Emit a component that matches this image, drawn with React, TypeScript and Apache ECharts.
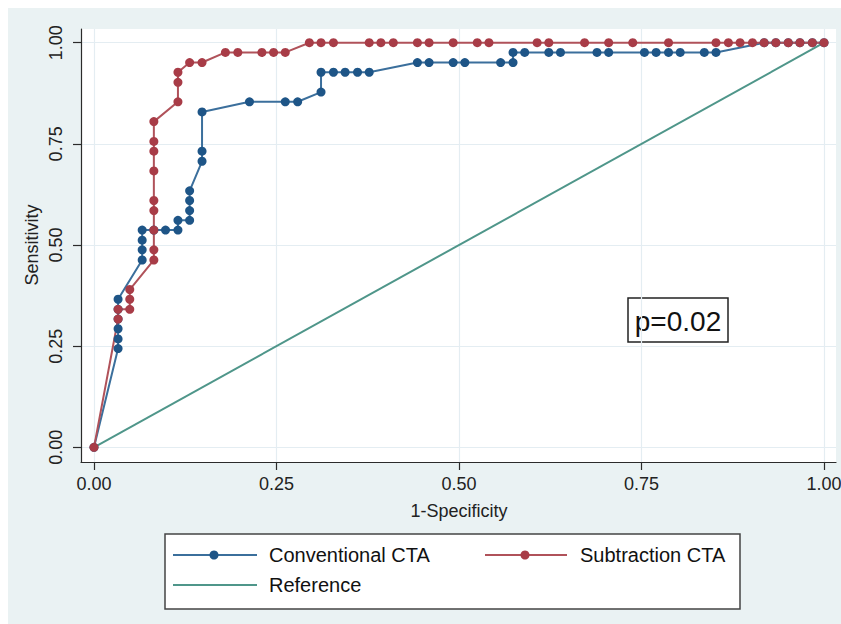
import React, { useEffect, useRef } from "react";
import * as echarts from "echarts";

// 1-Specificity / Sensitivity pairs
const convX = [0, 0.033, 0.033, 0.033, 0.033, 0.033, 0.033, 0.066, 0.066, 0.066, 0.066, 0.082, 0.098, 0.115, 0.115, 0.131, 0.131, 0.131, 0.131, 0.148, 0.148, 0.148, 0.213, 0.262, 0.279, 0.311, 0.311, 0.328, 0.344, 0.361, 0.377, 0.443, 0.459, 0.492, 0.508, 0.557, 0.574, 0.574, 0.59, 0.623, 0.639, 0.689, 0.705, 0.754, 0.77, 0.787, 0.803, 0.836, 0.852, 0.918, 0.934, 0.951, 0.967, 0.984, 1.0];
const convY = [0, 0.244, 0.268, 0.293, 0.317, 0.341, 0.366, 0.463, 0.488, 0.512, 0.537, 0.537, 0.537, 0.537, 0.561, 0.561, 0.585, 0.61, 0.634, 0.707, 0.732, 0.829, 0.854, 0.854, 0.854, 0.878, 0.927, 0.927, 0.927, 0.927, 0.927, 0.951, 0.951, 0.951, 0.951, 0.951, 0.951, 0.976, 0.976, 0.976, 0.976, 0.976, 0.976, 0.976, 0.976, 0.976, 0.976, 0.976, 0.976, 1, 1, 1, 1, 1, 1];

const subX = [0, 0.033, 0.033, 0.049, 0.049, 0.049, 0.082, 0.082, 0.082, 0.082, 0.082, 0.082, 0.082, 0.082, 0.082, 0.115, 0.115, 0.115, 0.131, 0.148, 0.18, 0.197, 0.23, 0.246, 0.262, 0.295, 0.311, 0.328, 0.377, 0.393, 0.41, 0.443, 0.459, 0.492, 0.525, 0.541, 0.607, 0.623, 0.672, 0.705, 0.738, 0.787, 0.852, 0.869, 0.885, 0.902, 0.918, 0.934, 0.951, 0.967, 0.984, 1.0];
const subY = [0, 0.317, 0.341, 0.341, 0.366, 0.39, 0.463, 0.488, 0.537, 0.585, 0.61, 0.683, 0.732, 0.756, 0.805, 0.854, 0.902, 0.927, 0.951, 0.951, 0.976, 0.976, 0.976, 0.976, 0.976, 1, 1, 1, 1, 1, 1, 1, 1, 1, 1, 1, 1, 1, 1, 1, 1, 1, 1, 1, 1, 1, 1, 1, 1, 1, 1, 1];

const refX = [0, 1];
const refY = [0, 1];

const tickValues = [0, 0.25, 0.5, 0.75, 1];
const seriesNames = ["Conventional CTA", "Subtraction CTA", "Reference"];
const annotation = "p=0.02";
const xTitle = "1-Specificity";
const yTitle = "Sensitivity";

const BLUE = "#1e5587";
const BLUE_LINE = "#3b6f9c";
const RED = "#a83c47";
const RED_LINE = "#b0525a";
const GREEN = "#4f968a";
const FONT = "Liberation Sans, Arial, Helvetica, sans-serif";

const W = 841;
const H = 624;

const pairs = (xs: number[], ys: number[]) => xs.map((x, i) => [x, ys[i]]);

export default function App() {
  const ref = useRef<HTMLDivElement>(null);
  useEffect(() => {
    const chart = echarts.init(ref.current!, null, { renderer: "svg", width: W, height: H });
    const axisCommon = {
      type: "value" as const,
      axisLine: { show: true, onZero: false, lineStyle: { color: "#2b2b2b", width: 1.2 } },
      axisTick: { show: true, inside: false, length: 8, customValues: tickValues, lineStyle: { color: "#2b2b2b", width: 1.2 } },
      splitLine: { show: true, lineStyle: { color: "#e4edf2", width: 1.2 } },
    };
    chart.setOption({
      animation: false,
      backgroundColor: "#eaf2f3",
      grid: { left: 73, top: 21, right: 13, bottom: 170, show: true, backgroundColor: "#ffffff", borderWidth: 0 },
      xAxis: {
        ...axisCommon,
        min: -0.0178,
        max: 1.0164,
        axisLabel: {
          customValues: tickValues,
          formatter: (v: number) => v.toFixed(2),
          fontFamily: FONT,
          fontSize: 18,
          color: "#222",
          margin: 13,
        },
      },
      yAxis: {
        ...axisCommon,
        min: -0.0363,
        max: 1.0339,
        axisLabel: {
          customValues: tickValues,
          formatter: (v: number) => v.toFixed(2),
          fontFamily: FONT,
          fontSize: 18,
          color: "#222",
          rotate: 90,
          margin: 16,
        },
      },
      series: [
        {
          name: seriesNames[2],
          type: "line",
          data: pairs(refX, refY),
          showSymbol: false,
          symbol: "none",
          lineStyle: { color: GREEN, width: 2 },
          silent: true,
        },
        {
          name: seriesNames[0],
          type: "line",
          data: pairs(convX, convY),
          symbol: "circle",
          symbolSize: 9,
          showAllSymbol: true,
          itemStyle: { color: BLUE },
          lineStyle: { color: BLUE_LINE, width: 2 },
        },
        {
          name: seriesNames[1],
          type: "line",
          data: pairs(subX, subY),
          symbol: "circle",
          symbolSize: 9,
          showAllSymbol: true,
          itemStyle: { color: RED },
          lineStyle: { color: RED_LINE, width: 2 },
        },
      ],
      graphic: [
        {
          type: "text",
          x: 451,
          y: 503,
          style: { text: xTitle, font: `18px ${FONT}`, fill: "#222", textAlign: "center", textVerticalAlign: "middle", align: "center", verticalAlign: "middle" },
        },
        {
          type: "text",
          x: 24,
          y: 237,
          rotation: Math.PI / 2,
          style: { text: yTitle, font: `18px ${FONT}`, fill: "#222", textAlign: "center", textVerticalAlign: "middle", align: "center", verticalAlign: "middle" },
        },
        {
          type: "rect",
          shape: { x: 620, y: 290, width: 100, height: 44 },
          style: { fill: "#ffffff", stroke: "#222", lineWidth: 1.5 },
        },
        {
          type: "text",
          x: 670,
          y: 313,
          style: { text: annotation, font: `28px ${FONT}`, fill: "#111", textAlign: "center", textVerticalAlign: "middle", align: "center", verticalAlign: "middle" },
        },
        // legend
        {
          type: "rect",
          shape: { x: 157, y: 526, width: 575, height: 75 },
          style: { fill: "#ffffff", stroke: "#444", lineWidth: 1.5 },
        },
        { type: "line", shape: { x1: 165, y1: 547, x2: 249, y2: 547 }, style: { stroke: BLUE_LINE, lineWidth: 2 } },
        { type: "circle", shape: { cx: 206, cy: 547, r: 4.5 }, style: { fill: BLUE } },
        {
          type: "text",
          x: 261,
          y: 547,
          style: { text: seriesNames[0], font: `20px ${FONT}`, fill: "#111", textAlign: "left", textVerticalAlign: "middle", align: "left", verticalAlign: "middle" },
        },
        { type: "line", shape: { x1: 477, y1: 547, x2: 559, y2: 547 }, style: { stroke: RED_LINE, lineWidth: 2 } },
        { type: "circle", shape: { cx: 517, cy: 547, r: 4.5 }, style: { fill: RED } },
        {
          type: "text",
          x: 572,
          y: 547,
          style: { text: seriesNames[1], font: `20px ${FONT}`, fill: "#111", textAlign: "left", textVerticalAlign: "middle", align: "left", verticalAlign: "middle" },
        },
        { type: "line", shape: { x1: 165, y1: 577, x2: 249, y2: 577 }, style: { stroke: GREEN, lineWidth: 2 } },
        {
          type: "text",
          x: 261,
          y: 577,
          style: { text: seriesNames[2], font: `20px ${FONT}`, fill: "#111", textAlign: "left", textVerticalAlign: "middle", align: "left", verticalAlign: "middle" },
        },
      ],
    });
    return () => chart.dispose();
  }, []);
  return <div ref={ref} style={{ position: "fixed", left: 8, top: 8, width: W, height: H, overflow: "hidden" }} />;
}
